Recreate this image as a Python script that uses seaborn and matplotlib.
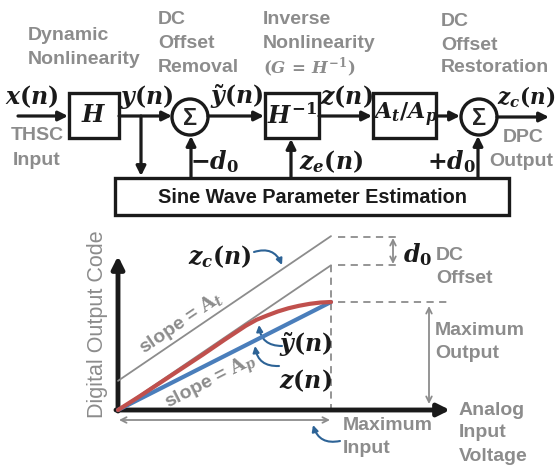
import matplotlib
matplotlib.use('Agg')
import matplotlib.pyplot as plt
import seaborn as sns
from matplotlib.patches import Rectangle, Circle, FancyArrowPatch

sns.set_theme(style='white')
plt.rcParams['font.family'] = ['Liberation Sans', 'DejaVu Sans']
plt.rcParams['mathtext.fontset'] = 'custom'
plt.rcParams['mathtext.it'] = 'DejaVu Serif:italic:bold'
plt.rcParams['mathtext.rm'] = 'DejaVu Serif:bold'
plt.rcParams['mathtext.bf'] = 'DejaVu Serif:bold'

# ---- data (normalised: input 1 = maximum input, output 1 = maximum output)
input_level = [0.0, 0.1, 0.2, 0.3, 0.4, 0.5, 0.6, 0.65, 0.7, 0.75, 0.8, 0.85, 0.9, 0.95, 1.0]
y_tilde = [0.0, 0.125, 0.255, 0.385, 0.515, 0.65, 0.78, 0.835, 0.875, 0.912, 0.942, 0.965, 0.983, 0.995, 1.0]
line_x = [0.0, 1.0]
z_line = [0.0, 1.0]        # slope A_p
at_line = [0.0, 1.34]      # slope A_t
zc_line = [0.27, 1.61]     # slope A_t, shifted by d0

GRAY = '#8c8c8c'
RED = '#c0504d'
BLUE = '#4a7ebb'
ABLUE = '#2d6396'

fig = plt.figure(figsize=(5.56, 4.65), dpi=100)
ax = fig.add_axes([0, 0, 1, 1])
ax.set_xlim(0, 556)
ax.set_ylim(465, 0)
ax.axis('off')

axd = fig.add_axes([0, 0, 1, 1])
axd.set_xlim(-118 / 213, 438 / 213)
axd.set_ylim(-55 / 108, 410 / 108)
axd.axis('off')
axd.patch.set_alpha(0)

def arrow(p0, p1, lw=2.3, color='k', style='-|>', ms=14):
    ax.annotate('', xy=p1, xytext=p0,
                arrowprops=dict(arrowstyle=style, lw=lw, color=color,
                                mutation_scale=ms, shrinkA=0, shrinkB=0))

def box(x, y, w, h):
    ax.add_patch(Rectangle((x, y), w, h, fill=True, fc='white', ec='k', lw=2.4, zorder=3))

def circ(cx, cy):
    ax.add_patch(Circle((cx, cy), 18, fc='white', ec='k', lw=2.4, zorder=3))
    ax.text(cx, cy + 1, 'Σ', ha='center', va='center', fontsize=17, fontweight='bold', zorder=4)

MS = 17
def mtext(x, y, s, size=MS, **kw):
    ax.text(x, y, s, ha=kw.pop('ha', 'center'), va='center', fontsize=size, color=kw.pop('color', 'k'), **kw)

GS = 14
def gtext(x, y, s, ha='left', **kw):
    ax.text(x, y, s, ha=ha, va='center', fontsize=GS, fontweight='bold', color=GRAY, **kw)

# ---------- block diagram
gtext(28, 35, 'Dynamic')
gtext(28, 59, 'Nonlinearity')
gtext(158, 20, 'DC')
gtext(158, 44, 'Offset')
gtext(158, 68, 'Removal')
gtext(263, 20, 'Inverse')
gtext(263, 44, 'Nonlinearity')
mtext(263, 68, r'$(G\,=\,H^{-1})$', size=12, ha='left', color=GRAY)
gtext(441, 21, 'DC')
gtext(441, 45, 'Offset')
gtext(441, 68, 'Restoration')
gtext(37, 135, 'THSC', ha='center')
gtext(37, 160, 'Input', ha='center')
gtext(523, 137, 'DPC', ha='center')
gtext(521, 161, 'Output', ha='center')

arrow((18, 116), (68, 116))
box(69, 93, 50, 45)
mtext(94, 116, r'$H$')
arrow((119, 116), (172, 116))
arrow((141, 116), (141, 176))
circ(190, 117)
arrow((191, 178), (191, 136))
arrow((208, 116), (264, 116))
box(265, 93, 54, 45)
mtext(292, 116, r'$H^{-1}$')
arrow((319, 116), (372, 116))
box(373, 93, 63, 45)
mtext(405, 115, r'$A_t/A_p$', size=16)
arrow((436, 116), (460, 116))
circ(479, 117)
arrow((497, 117), (549, 117))
arrow((291, 178), (291, 139))
arrow((478, 178), (478, 136))
ax.add_patch(Rectangle((115, 178), 394, 37, fill=False, ec='k', lw=2.4, zorder=3))
ax.text(312, 197, 'Sine Wave Parameter Estimation', ha='center', va='center',
        fontsize=14.3, fontweight='bold', color='k')

mtext(32, 97, r'$x(n)$')
mtext(147, 97, r'$y(n)$')
mtext(237, 97, r'$\tilde{y}(n)$')
mtext(346, 97, r'$z(n)$')
mtext(526, 97, r'$z_c(n)$', size=15.5)
mtext(214, 162, r'$-d_0$')
mtext(331, 162, r'$z_e(n)$')
mtext(451, 162, r'$+d_0$')

# ---------- transfer curves
sns.lineplot(x=line_x, y=zc_line, ax=axd, color=GRAY, lw=1.3, zorder=2)
sns.lineplot(x=line_x, y=at_line, ax=axd, color=GRAY, lw=1.3, zorder=2)
sns.lineplot(x=line_x, y=z_line, ax=axd, color=BLUE, lw=3, zorder=3)
sns.lineplot(x=input_level, y=y_tilde, ax=axd, color=RED, lw=3, zorder=4)

# axes arrows
arrow((118, 411), (118, 256), lw=3.5, ms=18)
arrow((116, 410), (450, 410), lw=3.5, ms=18)
ax.text(98, 324, 'Digital Output Code', rotation=90, ha='center', va='center',
        fontsize=15.5, color=GRAY)

dash = dict(color=GRAY, lw=1.3, ls=(0, (4, 3)))
ax.plot([331, 331], [265, 410], **dash)
ax.plot([338, 398], [237, 237], **dash)
ax.plot([338, 398], [265, 265], **dash)
ax.plot([338, 449], [302, 302], **dash)

arrow((119, 420), (330, 420), lw=1.3, color=GRAY, style='<->', ms=10)
arrow((393, 238), (393, 264), lw=1.3, color=GRAY, style='<->', ms=10)
arrow((429, 306), (429, 404), lw=1.3, color=GRAY, style='<->', ms=10)

mtext(418, 255, r'$d_0$')
gtext(436, 255, 'DC')
gtext(436, 278, 'Offset')
gtext(435, 330, 'Maximum')
gtext(435, 353, 'Output')
gtext(459, 410, 'Analog')
gtext(459, 432, 'Input')
gtext(459, 456, 'Voltage')
gtext(343, 425, 'Maximum')
gtext(343, 448, 'Input')

mtext(220, 257, r'$z_c(n)$')
mtext(306, 345, r'$\tilde{y}(n)$')
mtext(305, 381, r'$z(n)$')
ax.text(181, 323, r'slope = $\mathrm{A}_t$', rotation=34, ha='center', va='center',
        fontsize=14, fontweight='bold', color=GRAY, rotation_mode='anchor')
ax.text(211, 383, r'slope = $\mathrm{A}_p$', rotation=27, ha='center', va='center',
        fontsize=14, fontweight='bold', color=GRAY, rotation_mode='anchor')

def carrow(p0, p1, rad):
    ax.add_patch(FancyArrowPatch(p0, p1, connectionstyle=f'arc3,rad={rad}',
                                 arrowstyle='-|>', mutation_scale=9, lw=1.5,
                                 color=ABLUE, shrinkA=0, shrinkB=0, zorder=5))

carrow((254, 252), (282, 265), -0.45)
carrow((282, 346), (259, 325), -0.45)
carrow((279, 366), (255, 346), -0.45)
carrow((340, 441), (313, 425), -0.45)

fig.savefig('out.png', dpi=100)
